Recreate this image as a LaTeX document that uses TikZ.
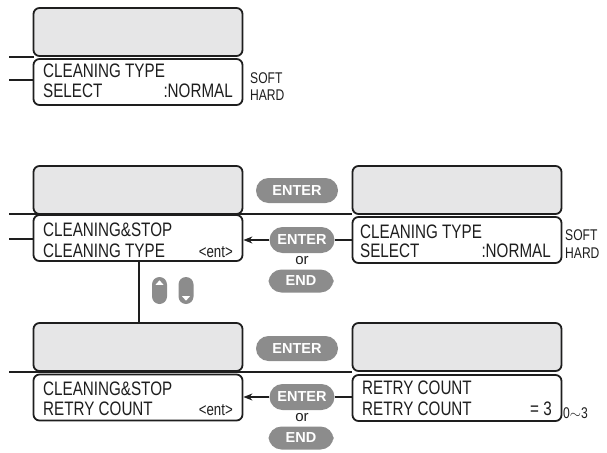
\documentclass[tikz,border=0pt]{standalone}
\usepackage{fontspec}
\setmainfont[FakeStretch=0.78]{Liberation Sans}
\newfontfamily\btnfont{Liberation Sans}
\usetikzlibrary{arrows.meta,calc}
\definecolor{pane}{RGB}{230,230,231}
\definecolor{pill}{RGB}{140,140,140}
\definecolor{ink}{RGB}{30,30,30}
\tikzset{
  upbox/.style={draw=ink,line width=1.8pt,rounded corners=6pt,fill=pane,minimum width=209pt,minimum height=48pt,inner sep=0pt},
  lowbox/.style={draw=ink,line width=1.8pt,rounded corners=6pt,fill=white,minimum width=209pt,minimum height=46pt,inner sep=0pt},
  lcd/.style={font=\fontsize{19.5}{19.5}\selectfont,text=ink,inner sep=0pt},
  ent/.style={font=\fontsize{17}{17}\selectfont,text=ink,inner sep=0pt},
  sml/.style={font=\fontsize{15.5}{15.5}\selectfont,text=ink,inner sep=0pt},
  ortext/.style={font=\btnfont\fontsize{15}{15}\selectfont,text=ink,inner sep=0pt},
  btn/.style={fill=pill,rounded corners=12.5pt,minimum width=82pt,minimum height=25pt,inner sep=0pt,text=white,font=\btnfont\bfseries\fontsize{14.5}{14.5}\selectfont},
  btns/.style={btn,minimum width=65pt,rounded corners=13pt,minimum height=26pt},
  wire/.style={draw=ink,line width=1.3pt},
  updn/.style={fill=pill,rounded corners=7.5pt,minimum width=15pt,minimum height=27pt,inner sep=0pt}
}
\begin{document}
\begin{tikzpicture}[x=1pt,y=-1pt]
\useasboundingbox (0,0) rectangle (607,452);
% ---------- top row ----------
\coordinate (tA) at (9,57);
\coordinate (tB) at (9,80);
\draw[wire] (tA) -- (34,57);
\draw[wire] (tB) -- (34,80);
\node[upbox] (tu) at (138,32) {};
\node[lowbox] (tl) at (138,82) {};
\node[lcd,anchor=base west] (t1) at (43,77.5) {CLEANING TYPE};
\node[lcd,anchor=base west] (t2) at (43,97) {SELECT};
\node[lcd,anchor=base east] (t3) at (233,97) {:NORMAL};
\node[sml,anchor=base west] (t4) at (250,83) {SOFT};
\node[sml,anchor=base west] (t5) at (250,100) {HARD};
% ---------- middle row ----------
\coordinate (mA) at (9,214);
\coordinate (mB) at (9,239);
\coordinate (mC) at (352,214);
\draw[wire] (mA) -- (mC);
\draw[wire] (mB) -- (34,239);
\node[upbox] (mlu) at (138,190) {};
\node[lowbox] (mll) at (138,238) {};
\node[upbox] (mru) at (457,190) {};
\node[lowbox] (mrl) at (457,240) {};
\node[lcd,anchor=base west] (m1) at (43,236) {CLEANING\&STOP};
\node[lcd,anchor=base west] (m2) at (43,257) {CLEANING TYPE};
\node[ent,anchor=base east] (m3) at (233,257) {<ent>};
\node[lcd,anchor=base west] (m4) at (360,238) {CLEANING TYPE};
\node[lcd,anchor=base west] (m5) at (360,257) {SELECT};
\node[lcd,anchor=base east] (m6) at (551,257) {:NORMAL};
\node[sml,anchor=base west] (m7) at (565,240) {SOFT};
\node[sml,anchor=base west] (m8) at (565,258) {HARD};
\node[btn] (me1) at (297,190.5) {ENTER};
\node[btns] (me2) at (302,240) {ENTER};
\node[ortext] (mor) at (302,261) {or};
\node[btns,minimum height=23pt] (mend) at (301,281) {END};
\draw[wire,-{Stealth[length=9pt,width=7pt]}] (me2.west) -- (mll.east |- me2);
\draw[wire] (me2.east) -- (mrl.west |- me2);
% ---------- up/down keys ----------
\node[updn] (ku) at (159.5,290.5) {};
\node[updn] (kd) at (186,290.5) {};
\fill[white] ($(ku.north)+(-4,8)$) -- ($(ku.north)+(4,8)$) -- ($(ku.north)+(0,3.5)$) -- cycle;
\fill[white] ($(kd.south)+(-4,-8)$) -- ($(kd.south)+(4,-8)$) -- ($(kd.south)+(0,-3.5)$) -- cycle;
% ---------- bottom row ----------
\coordinate (bA) at (9,372);
\coordinate (bC) at (352,372);
\draw[wire] (bA) -- (bC);
\node[upbox] (blu) at (138,347) {};
\node[lowbox] (bll) at (138,397.5) {};
\node[upbox] (bru) at (457,347) {};
\node[lowbox] (brl) at (457,398) {};
\draw[wire] (mll.south -| 139,0) -- (blu.north -| 139,0);
\node[lcd,anchor=base west] (b1) at (43,395) {CLEANING\&STOP};
\node[lcd,anchor=base west] (b2) at (43,415) {RETRY COUNT};
\node[ent,anchor=base east] (b3) at (233,415) {<ent>};
\node[lcd,anchor=base west] (b4) at (362,394) {RETRY COUNT};
\node[lcd,anchor=base west] (b5) at (362,415) {RETRY COUNT};
\node[lcd,anchor=base east] (b6) at (552,415) {= 3};
\node[sml,anchor=base west] (b7) at (563,418) {0$\sim$3};
\node[btn] (be1) at (297,348.5) {ENTER};
\node[btns] (be2) at (302,397) {ENTER};
\node[ortext] (bor) at (302,418) {or};
\node[btns,minimum height=23pt] (bend) at (301,438) {END};
\draw[wire,-{Stealth[length=9pt,width=7pt]}] (be2.west) -- (bll.east |- be2);
\draw[wire] (be2.east) -- (brl.west |- be2);
\end{tikzpicture}
\end{document}
